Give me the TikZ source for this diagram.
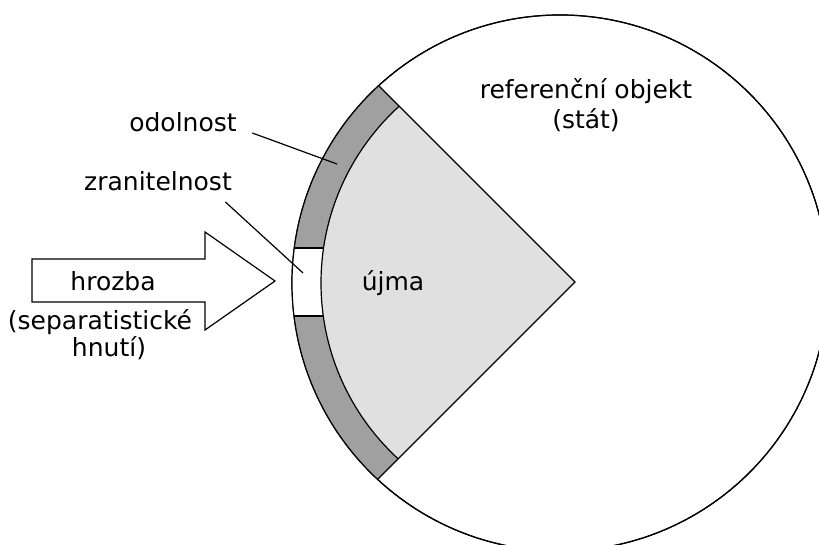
\documentclass[tikz,border=0pt]{standalone}
\usepackage{fontspec}
\setmainfont{DejaVu Sans}
\usepackage{tikz}
\usetikzlibrary{
	positioning,
	arrows.meta
}

\definecolor{ringgray}{HTML}{A0A0A0}
\definecolor{harmgray}{HTML}{E0E0E0}

\tikzset{
	label text/.style={inner sep=0pt,font=\fontsize{25}{30}\selectfont},
	leader/.style={line width=1.2pt}
}

\begin{document}
	\begin{tikzpicture}[x=1pt,y=1pt,line width=1.2pt]
		\clip (0,0) rectangle (819,545);
		\useasboundingbox (0,0) rectangle (819,545);

		\coordinate (stred)    at (560,262);
		\coordinate (apex)     at (575,263);
		\coordinate (wedge-up) at ([shift={(135:277.7)}]apex);
		\coordinate (wedge-dn) at ([shift={(225:279.1)}]apex);

		% referencni objekt
		\draw[fill=white] (stred) circle[radius=268];

		% odolnost, zranitelnost a ujma
		\begin{scope}
			\clip (apex) -- ([shift={(135:320)}]apex) -- (0,490) -- (0,30)
				-- ([shift={(225:320)}]apex) -- cycle;
			\clip (stred) circle[radius=268];
			\fill[ringgray] (stred) circle[radius=268];
			\draw[fill=white] (0,229) rectangle (400,297);
			\draw[fill=harmgray] (stred) circle[radius=239];
		\end{scope}
		\draw (stred) circle[radius=268];
		\draw (wedge-up) -- (apex) -- (wedge-dn);

		% hrozba
		\draw[fill=white] (32,243) -- (205,243) -- (205,215) -- (275,264)
			-- (205,313) -- (205,286) -- (32,286) -- cycle;

		\draw
			node[label text,anchor=base] (hrozba) at (113,254) {hrozba}
			node[label text,anchor=base] (separ)  at (100,215) {(separatistické}
			node[label text,anchor=base] (hnuti)  at (109,188) {hnutí)}
			node[label text,anchor=base,align=center] (objekt) at (586,416) {referenční objekt\\(stát)}
			node[label text,anchor=base] (odl)    at (183,413) {odolnost}
			node[label text,anchor=base] (zran)   at (158,354) {zranitelnost}
			node[label text]             (ujma)   at (393,262) {újma}
		;

		\coordinate (odl-end)  at (337,381);
		\coordinate (zran-end) at (303,272);

		\draw[leader] ([xshift=15pt,yshift=-1pt]odl.base east) -- (odl-end);
		\draw[leader] ([xshift=-7pt,yshift=-11pt]zran.base east) -- (zran-end);
	\end{tikzpicture}
\end{document}
